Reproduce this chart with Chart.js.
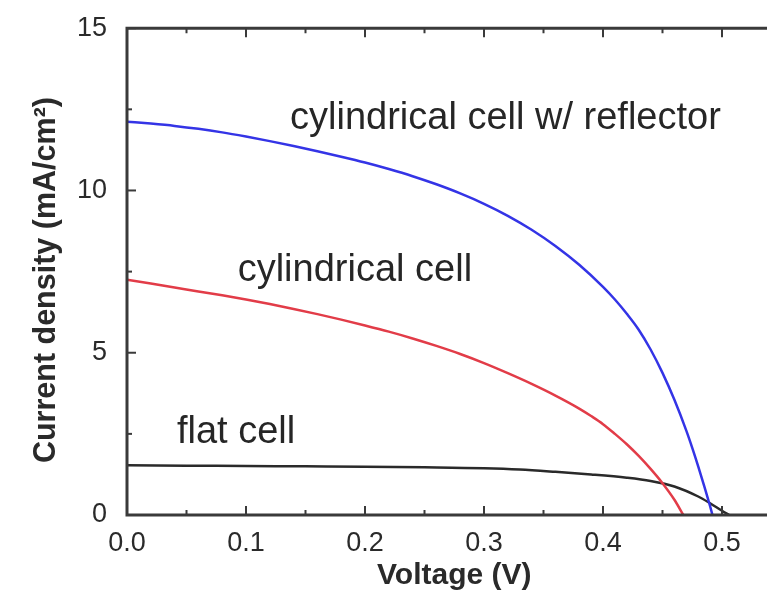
<!DOCTYPE html>
<html>
<head>
<meta charset="utf-8">
<script src="https://cdn.jsdelivr.net/npm/chart.js@4.4.1/dist/chart.umd.min.js"></script>
<style>
html, body { margin: 0; padding: 0; background: #fff; overflow: hidden; }
#wrap { width: 800px; height: 595px; }
</style>
</head>
<body>
<div id="wrap"><canvas id="grafico" width="800" height="595"></canvas></div>
<script>
// dados (V, mA/cm2)
var voltsRefletor = [0, 0.02, 0.04, 0.06, 0.08, 0.10, 0.12, 0.14, 0.16, 0.18, 0.20, 0.22, 0.24, 0.26, 0.28, 0.30, 0.32, 0.34, 0.36, 0.38, 0.40, 0.41, 0.42, 0.43, 0.44, 0.45, 0.46, 0.47, 0.475, 0.48, 0.485, 0.49, 0.492];
var correnteRefletor = [12.12, 12.06, 11.99, 11.9, 11.79, 11.66, 11.52, 11.37, 11.21, 11.04, 10.86, 10.66, 10.44, 10.19, 9.91, 9.59, 9.22, 8.79, 8.29, 7.71, 7.03, 6.64, 6.2, 5.71, 5.1, 4.38, 3.55, 2.6, 2.07, 1.5, 0.9, 0.27, 0];

var voltsCilindrica = [0, 0.02, 0.04, 0.06, 0.08, 0.10, 0.12, 0.14, 0.16, 0.18, 0.20, 0.22, 0.24, 0.26, 0.28, 0.30, 0.32, 0.34, 0.36, 0.38, 0.39, 0.40, 0.41, 0.42, 0.43, 0.44, 0.45, 0.46, 0.4675];
var correnteCilindrica = [7.25, 7.13, 7.01, 6.89, 6.77, 6.64, 6.5, 6.35, 6.19, 6.02, 5.84, 5.65, 5.44, 5.21, 4.96, 4.68, 4.37, 4.04, 3.68, 3.28, 3.05, 2.8, 2.5, 2.18, 1.82, 1.42, 0.98, 0.47, 0];

var voltsPlana = [0, 0.05, 0.10, 0.15, 0.20, 0.25, 0.30, 0.33, 0.36, 0.39, 0.42, 0.44, 0.46, 0.48, 0.49, 0.50, 0.506];
var correntePlana = [1.53, 1.52, 1.51, 1.5, 1.49, 1.47, 1.44, 1.4, 1.33, 1.25, 1.15, 1.05, 0.88, 0.57, 0.36, 0.13, 0];

var rotulos = ['cylindrical cell w/ reflector', 'cylindrical cell', 'flat cell'];
var rotuloX = [0.137, 0.093, 0.042];
var rotuloY = [11.9, 7.21, 2.21];

function pontos(xs, ys) {
    return xs.map(function(v, i) { return { x: v, y: ys[i] }; });
}

var eixos = {
    id: 'eixos',
    afterDraw: function(chart) {
        var ctx = chart.ctx;
        var area = chart.chartArea;
        var sx = chart.scales.x;
        var sy = chart.scales.y;
        ctx.save();
        ctx.strokeStyle = '#3a3a3a';
        ctx.lineWidth = 2;
        sx.ticks.forEach(function(t) {
            var px = sx.getPixelForValue(t.value);
            var len = (t.label !== '') ? 9 : 5;
            ctx.beginPath();
            ctx.moveTo(px, area.bottom);
            ctx.lineTo(px, area.bottom - len);
            ctx.moveTo(px, area.top);
            ctx.lineTo(px, area.top + len);
            ctx.stroke();
        });
        sy.ticks.forEach(function(t) {
            var py = sy.getPixelForValue(t.value);
            var len = (t.label !== '') ? 9 : 5;
            ctx.beginPath();
            ctx.moveTo(area.left, py);
            ctx.lineTo(area.left + len, py);
            ctx.stroke();
        });
        ctx.lineWidth = 3;
        ctx.beginPath();
        ctx.moveTo(area.right, area.top);
        ctx.lineTo(area.left, area.top);
        ctx.lineTo(area.left, area.bottom);
        ctx.lineTo(area.right, area.bottom);
        ctx.stroke();

        ctx.fillStyle = '#262626';
        ctx.font = '38px "Liberation Sans", Arial, sans-serif';
        ctx.textAlign = 'left';
        ctx.textBaseline = 'alphabetic';
        rotulos.forEach(function(txt, i) {
            ctx.fillText(txt, sx.getPixelForValue(rotuloX[i]), sy.getPixelForValue(rotuloY[i]));
        });
        ctx.restore();
    }
};

var ctx = document.getElementById('grafico').getContext('2d');
var myChart = new Chart(ctx, {
    type: 'scatter',
    data: {
        datasets: [{
            label: rotulos[0],
            data: pontos(voltsRefletor, correnteRefletor),
            borderColor: '#3434e6',
            showLine: true
        }, {
            label: rotulos[1],
            data: pontos(voltsCilindrica, correnteCilindrica),
            borderColor: '#e23c48',
            showLine: true
        }, {
            label: rotulos[2],
            data: pontos(voltsPlana, correntePlana),
            borderColor: '#2a2a2a',
            showLine: true
        }]
    },
    options: {
        responsive: false,
        animation: false,
        layout: { padding: { top: 26, right: 18.5, left: 0, bottom: 0 } },
        elements: {
            point: { radius: 0 },
            line: { borderWidth: 2.5, cubicInterpolationMode: 'monotone' }
        },
        plugins: { legend: { display: false }, tooltip: { enabled: false } },
        scales: {
            x: {
                type: 'linear',
                min: 0,
                max: 0.55,
                grid: { display: false },
                border: { display: false },
                ticks: {
                    stepSize: 0.05,
                    padding: 4,
                    color: '#2a2a2a',
                    font: { family: '"Liberation Sans", Arial, sans-serif', size: 27 },
                    callback: function(v) {
                        var d = Math.round(v * 100);
                        return (d % 10 === 0 && d <= 50) ? (d / 100).toFixed(1) : '';
                    }
                },
                title: {
                    display: true,
                    text: 'Voltage (V)',
                    color: '#2a2a2a',
                    font: { family: '"Liberation Sans", Arial, sans-serif', size: 30, weight: 'bold' },
                    padding: { top: 0, bottom: 1 }
                },
                afterFit: function(scale) { scale.height = 80; }
            },
            y: {
                type: 'linear',
                min: 0,
                max: 15,
                grid: { display: false },
                border: { display: false },
                ticks: {
                    stepSize: 2.5,
                    padding: 12,
                    color: '#2a2a2a',
                    font: { family: '"Liberation Sans", Arial, sans-serif', size: 27 },
                    callback: function(v) {
                        return (v % 5 === 0) ? String(v) : '';
                    }
                },
                title: {
                    display: true,
                    text: 'Current density (mA/cm\u00b2)  ',
                    color: '#2a2a2a',
                    font: { family: '"Liberation Sans", Arial, sans-serif', size: 30.5, weight: 'bold' },
                    padding: { top: 28, bottom: 0 }
                },
                afterFit: function(scale) { scale.width = 127; }
            }
        }
    },
    plugins: [eixos]
});
</script>
</body>
</html>
